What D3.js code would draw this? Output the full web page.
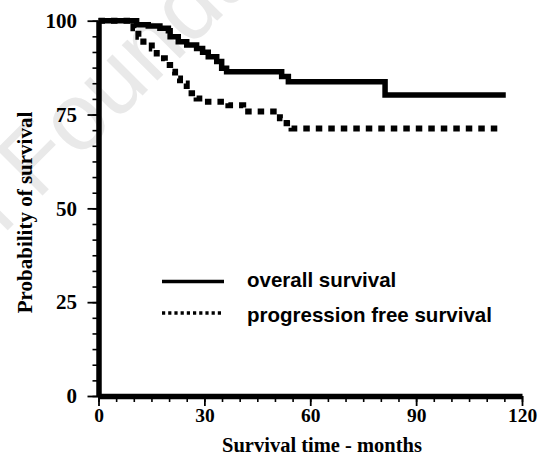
<!DOCTYPE html>
<html>
<head>
<meta charset="utf-8">
<script src="https://cdn.jsdelivr.net/npm/d3@7"></script>
<style>
  body { margin: 0; background: #fff; }
  svg { display: block; }
</style>
</head>
<body>
<div id="chart"></div>
<script>
        // Kaplan-Meier steps (time in months, % surviving)
        const osTime = [0, 10.8, 14.1, 17.4, 19.8, 20.3, 22.6, 25.0, 27.8, 29.5, 31.1, 33.5, 34.9, 36.3, 51.9, 53.8, 81.2, 115.4];
        const osSurv = [100, 98.9, 98.6, 98.0, 97.3, 95.7, 94.4, 93.5, 92.6, 91.6, 90.4, 89.1, 87.3, 86.4, 85.1, 83.7, 80.2, 80.2];

        const pfsTime = [0, 9.9, 11.3, 12.7, 15.1, 16.5, 18.8, 20.3, 21.7, 23.1, 25.0, 27.8, 29.5, 36.8, 41.0, 51.4, 53.3, 54.7, 113.5];
        const pfsSurv = [100, 98.0, 95.7, 94.4, 92.6, 90.0, 88.2, 86.4, 84.6, 83.3, 80.7, 79.3, 78.4, 77.5, 75.8, 74.0, 72.7, 71.3, 71.3];

        const xTicks = [0, 30, 60, 90, 120];
        const yTicks = [0, 25, 50, 75, 100];
        const legendLabels = ["overall survival", "progression free survival"];

        const W = 540, H = 455;

        const svg = d3.select("#chart").append("svg")
            .attr("width", W)
            .attr("height", H);

        svg.append("rect").attr("width", W).attr("height", H).attr("fill", "#fff");

        // faint watermark behind the chart (cut by the edges, as in the source)
        svg.append("text")
            .attr("transform", "translate(-34,272) rotate(-45)")
            .attr("font-family", "Liberation Sans, Arial, sans-serif")
            .attr("font-size", 95)
            .attr("fill", "#e9e9e9")
            .text("el Foundation");

        // Scales
        const x = d3.scaleLinear().domain([0, 120]).range([98.5, 522]);
        const y = d3.scaleLinear().domain([0, 100]).range([396, 20.7]);

        const serif = "Liberation Serif, Times New Roman, serif";

        // minor ticks
        svg.append("g")
            .attr("transform", `translate(0,${y(0)})`)
            .call(d3.axisBottom(x).tickValues(d3.range(0, 121, 5)).tickSize(6).tickFormat(""))
            .call(g => g.select(".domain").remove())
            .call(g => g.selectAll("line").attr("stroke-width", 1.6));

        svg.append("g")
            .attr("transform", `translate(${x(0)},0)`)
            .call(d3.axisLeft(y).tickValues(d3.range(0, 25 * 4 + 0.1, 25 / 6)).tickSize(6).tickFormat(""))
            .call(g => g.select(".domain").remove())
            .call(g => g.selectAll("line").attr("stroke-width", 1.6));

        // major axes
        const xAxis = svg.append("g")
            .attr("transform", `translate(0,${y(0)})`)
            .call(d3.axisBottom(x).tickValues(xTicks).tickSize(10).tickSizeOuter(0));
        xAxis.select(".domain").attr("stroke-width", 5.5);
        xAxis.selectAll("line").attr("stroke-width", 1.8);
        xAxis.selectAll("text")
            .attr("dy", null)
            .attr("y", 25.5)
            .attr("font-family", serif)
            .attr("font-weight", "bold")
            .attr("font-size", 19.5)
            .attr("fill", "#000");

        const yAxis = svg.append("g")
            .attr("transform", `translate(${x(0)},0)`)
            .call(d3.axisLeft(y).tickValues(yTicks).tickSize(11).tickPadding(10.5).tickSizeOuter(0));
        yAxis.select(".domain").attr("stroke-width", 5.5);
        yAxis.selectAll("line").attr("stroke-width", 1.8);
        yAxis.selectAll("text")
            .attr("font-family", serif)
            .attr("font-weight", "bold")
            .attr("font-size", 21)
            .attr("fill", "#000");

        // axis titles
        svg.append("text")
            .attr("x", 322).attr("y", 452)
            .attr("text-anchor", "middle")
            .attr("font-family", serif)
            .attr("font-weight", "bold")
            .attr("font-size", 20.5)
            .text("Survival time - months");

        svg.append("text")
            .attr("transform", "translate(32,212.5) rotate(-90)")
            .attr("text-anchor", "middle")
            .attr("font-family", serif)
            .attr("font-weight", "bold")
            .attr("font-size", 21)
            .text("Probability of survival");

        // curves
        const line = d3.line()
            .x(d => x(d[0]))
            .y(d => y(d[1]))
            .curve(d3.curveStepAfter);

        svg.append("path")
            .datum(d3.zip(pfsTime, pfsSurv))
            .attr("d", line)
            .attr("fill", "none")
            .attr("stroke", "#000")
            .attr("stroke-width", 6)
            .attr("stroke-dasharray", "6.5,6");

        svg.append("path")
            .datum(d3.zip(osTime, osSurv))
            .attr("d", line)
            .attr("fill", "none")
            .attr("stroke", "#000")
            .attr("stroke-width", 5.5);

        // legend
        const legend = svg.append("g");
        const legendRows = [
            { label: legendLabels[0], y: 281.5, dash: null, width: 3.5 },
            { label: legendLabels[1], y: 313, dash: "3.2,3", width: 3.5 }
        ];
        legendRows.forEach(r => {
            legend.append("line")
                .attr("x1", 162).attr("x2", 224)
                .attr("y1", r.y).attr("y2", r.y)
                .attr("stroke", "#000")
                .attr("stroke-width", r.width)
                .attr("stroke-dasharray", r.dash);
            legend.append("text")
                .attr("x", 247).attr("y", r.y + 5.5 + (r.dash ? 3.5 : 0))
                .attr("font-family", "Liberation Sans, Arial, sans-serif")
                .attr("font-weight", "bold")
                .attr("font-size", 20.5)
                .text(r.label);
        });
</script>
</body>
</html>
